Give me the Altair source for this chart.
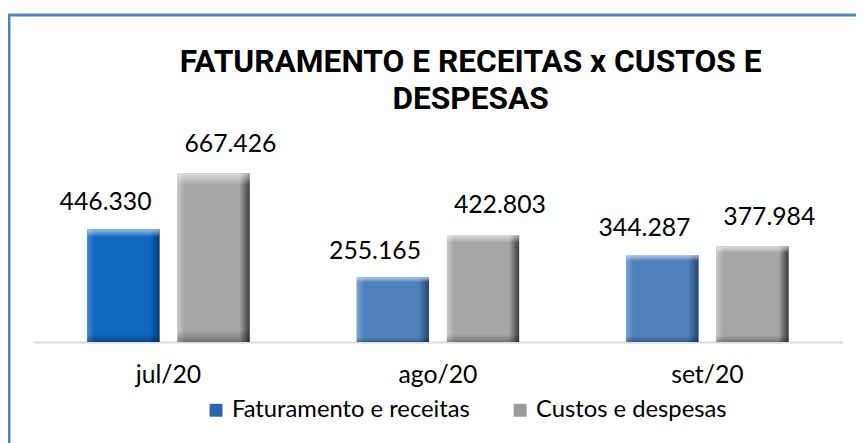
import altair as alt
import pandas as pd

meses = ["jul/20", "ago/20", "set/20"]
series = ["Faturamento e receitas", "Custos e despesas"]
faturamento = [446.330, 255.165, 344.287]
custos = [667.426, 422.803, 377.984]
titulo = ["FATURAMENTO E RECEITAS x CUSTOS E", "DESPESAS"]

rows = []
for i, m in enumerate(meses):
    rows.append({"mes": m, "serie": series[0], "valor": faturamento[i]})
    rows.append({"mes": m, "serie": series[1], "valor": custos[i]})
df = pd.DataFrame(rows)

FONT = "Lato"
TITLE_FONT = "Liberation Sans Narrow, Roboto, sans-serif"

x = alt.X("mes:N", sort=meses, scale=alt.Scale(paddingInner=0, paddingOuter=0),
          axis=alt.Axis(title=None, labelAngle=0, ticks=False, domain=True,
                        domainColor="#D9D9D9", domainWidth=2, labelFontSize=25,
                        labelFont=FONT, labelColor="#000000", labelPadding=21,
                        grid=False))
xo = alt.XOffset("serie:N", sort=series,
                 scale=alt.Scale(paddingInner=0.2, paddingOuter=0.594))
y = alt.Y("valor:Q", scale=alt.Scale(domain=[0, 800]), axis=None)


def hgrad(base, light, dark):
    return {"gradient": "linear", "x1": 0, "x2": 1, "y1": 0, "y2": 0,
            "stops": [{"offset": 0, "color": light},
                      {"offset": 0.1, "color": base},
                      {"offset": 0.86, "color": base},
                      {"offset": 1, "color": dark}]}


vgrad = {"gradient": "linear", "x1": 0, "x2": 0, "y1": 0, "y2": 1,
         "stops": [{"offset": 0, "color": "rgba(255,255,255,0.6)"},
                   {"offset": 0.07, "color": "rgba(255,255,255,0)"},
                   {"offset": 0.93, "color": "rgba(0,0,0,0)"},
                   {"offset": 1, "color": "rgba(0,0,0,0.3)"}]}

base = alt.Chart(df).mark_bar().encode(
    x=x, xOffset=xo, y=y,
    color=alt.Color("serie:N", sort=series,
                    scale=alt.Scale(domain=series, range=["#2A64AE", "#9A9A9A"]),
                    legend=alt.Legend(title=None, orient="none", legendX=172, legendY=261,
                                      direction="horizontal", symbolType="square",
                                      symbolSize=170, symbolStrokeWidth=0,
                                      labelFontSize=24, labelFont=FONT,
                                      labelColor="#000000", columnPadding=38,
                                      labelLimit=400, labelOffset=4))
)

jul_blue = alt.Chart(df).mark_bar(
    fill=hgrad("#0F67C0", "#3C8AD6", "#0A3E78")
).encode(x=x, xOffset=xo, y=y).transform_filter(
    (alt.datum.serie == series[0]) & (alt.datum.mes == meses[0]))

other_blue = alt.Chart(df).mark_bar(
    fill=hgrad("#4F81BD", "#7AA3D6", "#27456E")
).encode(x=x, xOffset=xo, y=y).transform_filter(
    (alt.datum.serie == series[0]) & (alt.datum.mes != meses[0]))

gray = alt.Chart(df).mark_bar(
    fill=hgrad("#A6A6A6", "#C8C8C8", "#3A3A3A")
).encode(x=x, xOffset=xo, y=y).transform_filter(alt.datum.serie == series[1])

shade = alt.Chart(df).mark_bar(fill=vgrad).encode(x=x, xOffset=xo, y=y)

lbl_fat = alt.Chart(df).mark_text(
    font=FONT, fontSize=25, color="#000000", dx=-18, dy=-27, baseline="middle"
).encode(x=x, xOffset=xo, y=y, text=alt.Text("valor:Q", format=".3f")).transform_filter(
    alt.datum.serie == series[0])

lbl_cus = alt.Chart(df).mark_text(
    font=FONT, fontSize=25, color="#000000", dx=17, dy=-30, baseline="middle"
).encode(x=x, xOffset=xo, y=y, text=alt.Text("valor:Q", format=".3f")).transform_filter(
    alt.datum.serie == series[1])

frame = alt.Chart(pd.DataFrame({"k": [0]})).mark_rect(
    fill="transparent", stroke="#4F81BD", strokeWidth=3
).encode(x=alt.value(-25), x2=alt.value(900), y=alt.value(-126), y2=alt.value(420))

title = alt.Chart(pd.DataFrame({"k": [0]})).mark_text(
    text=titulo, font=TITLE_FONT, fontSize=32, fontWeight="bold", color="#000000",
    align="center", baseline="middle", lineHeight=37
).encode(x=alt.value(441), y=alt.value(-78))

chart = alt.layer(frame, title, base, jul_blue, other_blue, gray, shade, lbl_fat, lbl_cus).properties(
    width=816, height=204,
    autosize=alt.AutoSizeParams(type="none"),
    padding={"left": 26, "top": 131, "right": 14, "bottom": 100},
    background="#FFFFFF",
).configure_view(stroke=None)

chart.save("out.html", embed_options={"renderer": "svg", "actions": False})
